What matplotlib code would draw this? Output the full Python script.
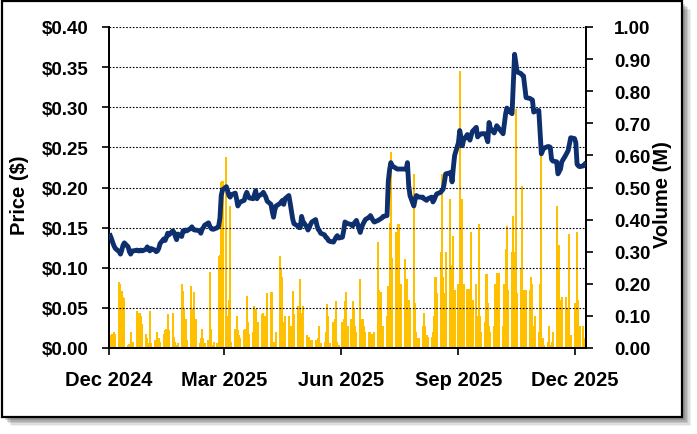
import numpy as np
import pandas as pd
import matplotlib
matplotlib.use("Agg")
import matplotlib.pyplot as plt
from matplotlib.patches import Rectangle

plt.rcParams['font.family'] = ['Liberation Sans', 'DejaVu Sans']
plt.rcParams['font.weight'] = 'bold'

# daily closing price ($), trading days from 2 Dec 2024
price = [
    0.140, 0.136, 0.131, 0.127, 0.124, 0.120, 0.117, 0.122, 0.128, 0.131,
    0.126, 0.120, 0.117, 0.121, 0.121, 0.122, 0.121, 0.121, 0.122, 0.121,
    0.123, 0.126, 0.123, 0.121, 0.124, 0.122, 0.120, 0.121, 0.124, 0.130,
    0.136, 0.134, 0.138, 0.143, 0.141, 0.146, 0.144, 0.139, 0.135, 0.142,
    0.139, 0.146, 0.145, 0.147, 0.146, 0.149, 0.151, 0.148, 0.147, 0.147,
    0.146, 0.143, 0.148, 0.150, 0.153, 0.156, 0.152, 0.149, 0.148, 0.148,
    0.150, 0.152, 0.162, 0.190, 0.197, 0.201, 0.196, 0.190, 0.188, 0.191,
    0.193, 0.186, 0.177, 0.180, 0.182, 0.184, 0.190, 0.194, 0.190, 0.187,
    0.186, 0.191, 0.196, 0.186, 0.189, 0.192, 0.194, 0.191, 0.188, 0.183,
    0.179, 0.170, 0.163, 0.172, 0.177, 0.180, 0.182, 0.184, 0.179, 0.186,
    0.190, 0.181, 0.171, 0.161, 0.155, 0.152, 0.150, 0.150, 0.164, 0.158,
    0.151, 0.147, 0.150, 0.154, 0.157, 0.160, 0.153, 0.148, 0.146, 0.143,
    0.141, 0.138, 0.137, 0.134, 0.133, 0.132, 0.135, 0.138, 0.140, 0.137,
    0.138, 0.146, 0.157, 0.156, 0.155, 0.154, 0.152, 0.155, 0.157, 0.159,
    0.144, 0.150, 0.154, 0.157, 0.160, 0.163, 0.165, 0.162, 0.159, 0.157,
    0.159, 0.160, 0.161, 0.162, 0.164, 0.165, 0.208, 0.222, 0.231, 0.227,
    0.224, 0.223, 0.223, 0.223, 0.223, 0.223, 0.223, 0.231, 0.202, 0.190,
    0.177, 0.185, 0.190, 0.189, 0.188, 0.188, 0.186, 0.185, 0.184, 0.186,
    0.188, 0.182, 0.185, 0.189, 0.192, 0.194, 0.196, 0.198, 0.207, 0.217,
    0.218, 0.219, 0.207, 0.225, 0.240, 0.256, 0.271, 0.262, 0.252, 0.259,
    0.266, 0.262, 0.259, 0.265, 0.270, 0.275, 0.263, 0.265, 0.266, 0.267,
    0.267, 0.262, 0.257, 0.281, 0.274, 0.268, 0.272, 0.277, 0.275, 0.273,
    0.267, 0.280, 0.292, 0.299, 0.296, 0.292, 0.330, 0.366, 0.355, 0.344,
    0.342, 0.340, 0.339, 0.325, 0.312, 0.311, 0.310, 0.309, 0.294, 0.295,
    0.296, 0.270, 0.242, 0.246, 0.249, 0.251, 0.251, 0.250, 0.235, 0.233,
    0.232, 0.217, 0.220, 0.223, 0.232, 0.240, 0.243, 0.246, 0.254, 0.262,
    0.261, 0.256, 0.229, 0.227, 0.226, 0.227, 0.229,
]

# daily volume (millions)
volume = [
    0.040, 0.045, 0.040, 0.050, 0.045, 0.205, 0.200, 0.179, 0.158, 0.155,
    0.010, 0.012, 0.050, 0.005, 0.020, 0.116, 0.110, 0.110, 0.100, 0.075,
    0.045, 0.030, 0.015, 0.116, 0.015, 0.025, 0.020, 0.050, 0.030, 0.020,
    0.045, 0.055, 0.060, 0.106, 0.055, 0.110, 0.035, 0.020, 0.010, 0.015,
    0.199, 0.178, 0.120, 0.090, 0.025, 0.194, 0.121, 0.090, 0.173, 0.090,
    0.015, 0.030, 0.060, 0.030, 0.015, 0.025, 0.236, 0.060, 0.010, 0.020,
    0.015, 0.288, 0.290, 0.517, 0.520, 0.594, 0.100, 0.150, 0.443, 0.020,
    0.060, 0.100, 0.055, 0.040, 0.030, 0.055, 0.060, 0.163, 0.080, 0.045,
    0.050, 0.132, 0.120, 0.075, 0.080, 0.106, 0.110, 0.100, 0.005, 0.170,
    0.173, 0.173, 0.020, 0.010, 0.050, 0.288, 0.250, 0.220, 0.080, 0.100,
    0.100, 0.060, 0.070, 0.178, 0.106, 0.130, 0.120, 0.215, 0.110, 0.130,
    0.040, 0.030, 0.035, 0.025, 0.025, 0.025, 0.020, 0.030, 0.070, 0.015,
    0.020, 0.050, 0.137, 0.100, 0.015, 0.080, 0.090, 0.147, 0.020, 0.010,
    0.080, 0.090, 0.147, 0.173, 0.070, 0.090, 0.147, 0.120, 0.070, 0.050,
    0.215, 0.090, 0.090, 0.070, 0.050, 0.050, 0.050, 0.045, 0.045, 0.050,
    0.329, 0.180, 0.173, 0.030, 0.070, 0.100, 0.194, 0.390, 0.610, 0.280,
    0.360, 0.360, 0.386, 0.170, 0.200, 0.277, 0.200, 0.215, 0.150, 0.120,
    0.542, 0.140, 0.050, 0.030, 0.030, 0.070, 0.110, 0.070, 0.040, 0.035,
    0.035, 0.050, 0.100, 0.220, 0.170, 0.300, 0.542, 0.220, 0.170, 0.300,
    0.464, 0.260, 0.200, 0.350, 0.180, 0.200, 0.864, 0.300, 0.464, 0.200,
    0.184, 0.184, 0.100, 0.360, 0.150, 0.200, 0.100, 0.386, 0.100, 0.050,
    0.080, 0.230, 0.140, 0.070, 0.050, 0.070, 0.200, 0.235, 0.200, 0.235,
    0.070, 0.200, 0.308, 0.380, 0.180, 0.300, 0.410, 0.300, 0.745, 0.170,
    0.250, 0.505, 0.180, 0.150, 0.180, 0.180, 0.220, 0.200, 0.070, 0.100,
    0.050, 0.200, 0.600, 0.030, 0.010, 0.020, 0.070, 0.010, 0.020, 0.050,
    0.443, 0.120, 0.320, 0.150, 0.160, 0.160, 0.070, 0.120, 0.355, 0.040,
    0.140, 0.140, 0.360, 0.150, 0.070, 0.070, 0.030,
]

dates = pd.bdate_range(start="2024-12-02", periods=len(price))
tick_dates = pd.to_datetime(["2024-12-01", "2025-03-01", "2025-06-01", "2025-09-01", "2025-12-01"])
tick_labels = ["Dec 2024", "Mar 2025", "Jun 2025", "Sep 2025", "Dec 2025"]

fig = plt.figure(figsize=(6.97, 4.35), dpi=100)

# frame with soft grey shadow (behind the axes)
W, H = 697.0, 435.0
for k, a in enumerate([0.06, 0.08, 0.10, 0.12, 0.14]):
    off = 9 - k * 1.5
    fig.patches.append(Rectangle(((2 + off) / W, 1 - (418 + off) / H), 680 / W, 416 / H,
                                 transform=fig.transFigure, facecolor='black', alpha=a,
                                 edgecolor='none', zorder=-3))
fig.patches.append(Rectangle((2 / W, 1 - 418 / H), 680 / W, 416 / H,
                             transform=fig.transFigure, facecolor='white',
                             edgecolor='black', linewidth=1.6, zorder=-2))

ax = fig.add_axes([109 / W, 1 - 349 / H, 477 / W, 321 / H])
ax2 = ax.twinx()
ax.set_zorder(ax2.get_zorder() + 1)
ax.patch.set_visible(False)
ax2.patch.set_visible(False)

ax2.bar(dates, volume, width=1.6, color='#FFC000', align='center', linewidth=0, zorder=2)
ax.plot(dates, price, color='#0E2F6E', linewidth=3.5, solid_joinstyle='round', zorder=3)

ax.set_xlim(pd.Timestamp("2024-12-01"), pd.Timestamp("2025-12-10"))
ax.set_ylim(0, 0.40)
ax2.set_ylim(0, 1.0)

ax.set_yticks(np.arange(0, 0.401, 0.05))
ax.set_yticklabels([f"${v:.2f}" for v in np.arange(0, 0.401, 0.05)])
ax2.set_yticks(np.arange(0, 1.001, 0.1))
ax2.set_yticklabels([f"{v:.2f}" for v in np.arange(0, 1.001, 0.1)])
ax.set_xticks(tick_dates)
ax.set_xticklabels(tick_labels)

ax.grid(axis='y', color='black', linestyle=(0, (1.5, 1.5)), linewidth=0.8)
ax.set_axisbelow(False)

for a in (ax, ax2):
    a.spines['top'].set_visible(False)
    a.tick_params(labelsize=13.5, width=1.2, length=5, colors='black')
    for s in a.spines.values():
        s.set_linewidth(1.3)
ax.tick_params(axis='y', pad=10)
ax.tick_params(axis='x', pad=11, labelsize=14.5)
ax2.tick_params(axis='y', pad=15)

for lab in ax.get_xticklabels() + ax.get_yticklabels() + ax2.get_yticklabels():
    lab.set_fontweight('bold')

ax.set_ylabel("Price ($)", fontsize=14.5, fontweight='bold')
ax.yaxis.set_label_coords(-0.168, 0.48)
ax2.set_ylabel("Volume (M)", fontsize=14.5, fontweight='bold')
ax2.yaxis.set_label_coords(1.14, 0.48)

fig.savefig("out.png", dpi=100)
